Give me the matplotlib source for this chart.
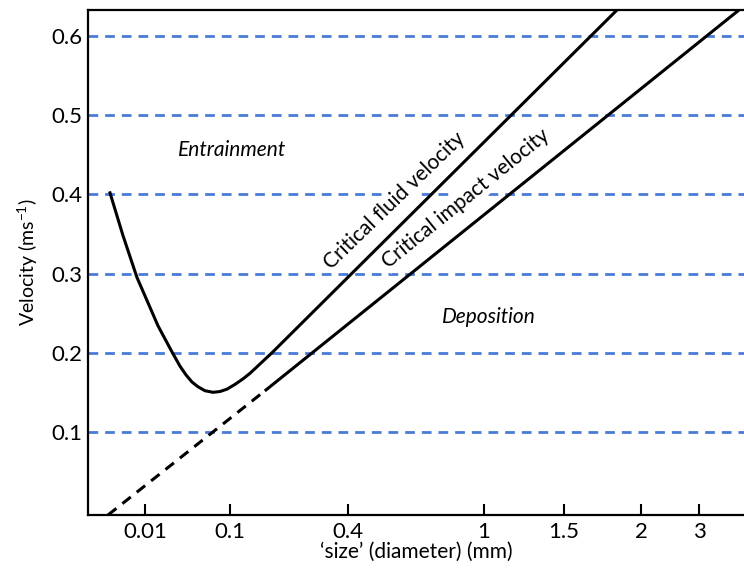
import numpy as np
import matplotlib
matplotlib.use("Agg")
import matplotlib.pyplot as plt

plt.rcParams['font.family'] = ['Lato', 'DejaVu Sans']

# schematic x axis: positions along the axis and the size labels at them
x_tick_pos = [57, 142, 260, 396, 476, 553, 611]
x_tick_labels = ['0.01', '0.1', '0.4', '1', '1.5', '2', '3']

y_ticks = [0.1, 0.2, 0.3, 0.4, 0.5, 0.6]

# critical fluid velocity curve
fluid_x = [22, 35, 49, 59, 70, 84, 92, 98, 104, 110, 117, 125, 132, 139,
           147, 155, 162, 184, 529]
fluid_y = [0.402, 0.348, 0.295, 0.266, 0.234, 0.201, 0.183, 0.172, 0.163,
           0.157, 0.152, 0.150, 0.151, 0.154, 0.160, 0.167, 0.174, 0.200, 0.633]

# critical impact velocity: dashed extrapolation then solid line
impact_dash_x = [20, 178]
impact_dash_y = [-0.005, 0.153]
impact_x = [178, 651]
impact_y = [0.153, 0.633]

fig = plt.figure(figsize=(7.44, 5.71), dpi=100)
ax = fig.add_axes([88/744, 56/571, 656/744, 505/571])

ax.hlines(y_ticks, 0, 656, colors='#4a7bd6', linewidth=2,
          linestyles=(0, (3.5, 2.5)), zorder=1)

ax.plot(fluid_x, fluid_y, color='black', lw=2.2, zorder=4,
        solid_joinstyle='round')
ax.plot(impact_x, impact_y, color='black', lw=2.2, zorder=4)
ax.plot(impact_dash_x, impact_dash_y, color='black', lw=2.2, zorder=4,
        dashes=(3.5, 2.5))

ax.text(144, 0.456, 'Entrainment', style='italic', fontsize=15,
        ha='center', va='center')
ax.text(401, 0.245, 'Deposition', style='italic', fontsize=15,
        ha='center', va='center')
box = dict(facecolor='white', edgecolor='none', pad=1)
ax.text(306, 0.392, 'Critical fluid velocity', rotation=44, fontsize=15,
        ha='center', va='center', rotation_mode='anchor', bbox=box, zorder=3)
ax.text(378, 0.395, 'Critical impact velocity', rotation=39, fontsize=15,
        ha='center', va='center', rotation_mode='anchor', bbox=box, zorder=3)

ax.set_xlim(0, 656)
ax.set_ylim(-0.005, 0.633)
ax.set_xticks(x_tick_pos)
ax.set_xticklabels(x_tick_labels)
ax.set_yticks(y_ticks)
ax.set_yticklabels([f'{v:.1f}' for v in y_ticks])
ax.tick_params(axis='x', direction='in', length=8, width=1.5, labelsize=16, pad=5)
ax.tick_params(axis='y', length=0, labelsize=16, pad=4)

for s in ['left', 'bottom', 'top']:
    ax.spines[s].set_linewidth(1.6)
ax.spines['right'].set_visible(False)

ax.set_xlabel('\u2018size\u2019 (diameter) (mm)', fontsize=15, labelpad=0)
ax.set_ylabel('Velocity (ms$^{\\mathregular{-1}}$)', fontsize=14, labelpad=8)

fig.savefig('out.png', dpi=100)
